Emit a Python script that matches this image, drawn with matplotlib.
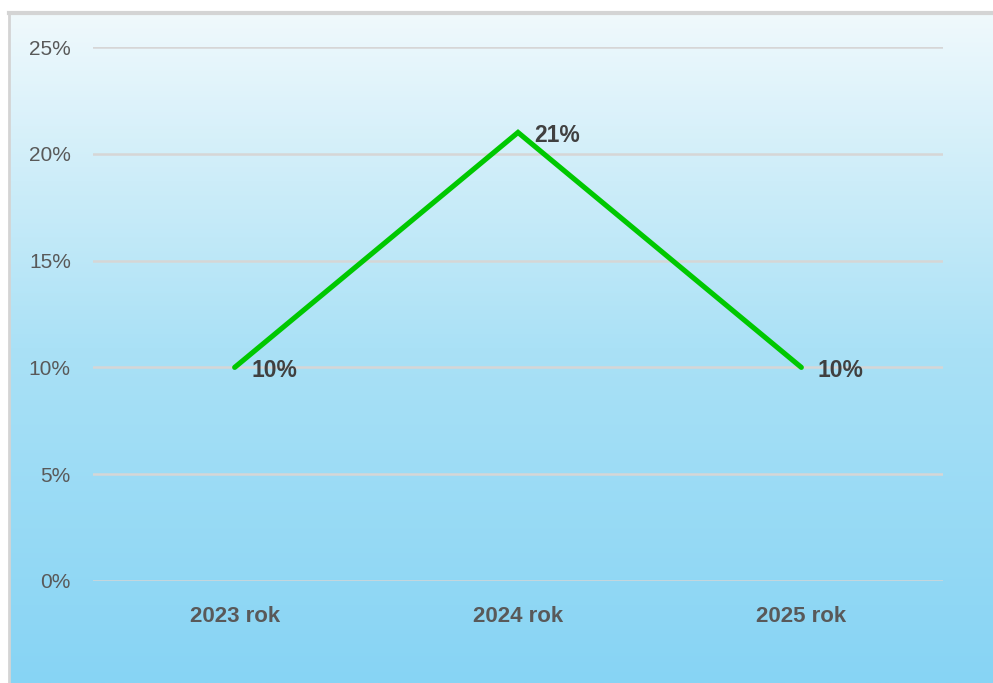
import numpy as np
import matplotlib
matplotlib.use("Agg")
import matplotlib.pyplot as plt
from matplotlib.colors import LinearSegmentedColormap
from matplotlib.ticker import PercentFormatter

# data
years = ["2023 rok", "2024 rok", "2025 rok"]
values = [0.10, 0.21, 0.10]
value_labels = ["10%", "21%", "10%"]
y_ticks = [0, 0.05, 0.10, 0.15, 0.20, 0.25]

plt.rcParams['font.family'] = ['Liberation Sans', 'DejaVu Sans']

W, H = 993, 683
fig = plt.figure(figsize=(W / 100, H / 100), dpi=100)
fig.patch.set_facecolor("white")

# gradient background of the chart area
bg = fig.add_axes([9 / W, 0, 1 - 9 / W, (H - 13) / H])
cmap = LinearSegmentedColormap.from_list("bg", ["#87D4F4", "#AAE1F6", "#F0F9FC"])
grad = np.linspace(0, 1, 256).reshape(-1, 1)
bg.imshow(grad, aspect="auto", cmap=cmap, origin="lower", extent=[0, 1, 0, 1])
bg.set_xticks([])
bg.set_yticks([])
for side in ["top", "bottom", "right"]:
    bg.spines[side].set_visible(False)
bg.spines["left"].set_color("#D4D4D4")
bg.spines["left"].set_linewidth(2)
bg.plot([0, 1], [1, 1], color="#D4D4D4", lw=3, transform=bg.transAxes, clip_on=False)

ax = fig.add_axes([93 / W, 102 / H, 850 / W, 534 / H])
ax.set_facecolor("none")
x = np.arange(len(years))
ax.plot(x, values, color="#00C800", lw=3.7, solid_joinstyle="miter", solid_capstyle="round", zorder=3)
for xi, v, lab in zip(x, values, value_labels):
    ax.annotate(lab, (xi, v), xytext=(12, -2.5), textcoords="offset points",
                ha="left", va="center", fontsize=16.5, fontweight="bold", color="#404040")

ax.set_xlim(-0.5, 2.5)
ax.set_ylim(0, 0.25)
ax.set_yticks(y_ticks)
ax.yaxis.set_major_formatter(PercentFormatter(1.0, decimals=0))
ax.set_xticks(x)
ax.set_xticklabels(years, fontsize=16, fontweight="bold", color="#595959")
ax.tick_params(axis="y", length=0, pad=16, labelsize=15, labelcolor="#595959")
ax.tick_params(axis="x", length=0, pad=18)
ax.grid(axis="y", color="#D6D6D6", lw=1.8)
ax.set_axisbelow(True)
for s in ax.spines.values():
    s.set_visible(False)

fig.savefig("out.png", dpi=100)
